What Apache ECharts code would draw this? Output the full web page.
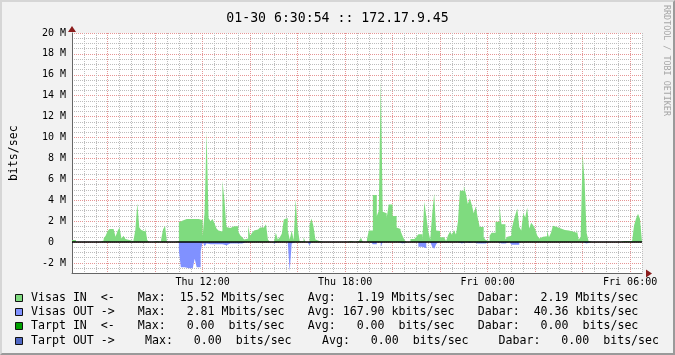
<!DOCTYPE html>
<html><head><meta charset="utf-8">
<script src="https://cdn.jsdelivr.net/npm/echarts@6/dist/echarts.min.js"></script>
<style>
html,body{margin:0;padding:0;background:#f2f2f2;}
#wrap{position:relative;width:675px;height:355px;}
#chart{position:absolute;left:0;top:0;width:675px;height:355px;}
#frame{position:absolute;left:0;top:0;width:675px;height:355px;box-sizing:border-box;border:2px solid;border-color:#d6d6d6 #9a9a9a #9a9a9a #d6d6d6;pointer-events:none;}
</style></head><body>
<div id="wrap"><div id="chart"></div><div id="frame"></div></div>
<script>
// ---- data (Mbits/sec, one value per 5-minute sample, starting Thu 06:30) ----
const startMinute = 390;   // Thu 06:30, minutes since Thu 00:00
const stepMinutes = 5;
const visasIn = [
  0.2,0.2,0,0,0,0,0.1,0,0,0,0,0,
  0,0,0.15,0.15,0.35,0.6,1.05,1.25,1.25,1.4,0.5,1.05,
  1.4,0.35,0.6,0.3,0.2,0.25,0.1,0.1,1.15,3.7,1.4,1.15,
  1.0,1.4,0.2,0,0,0.1,0.1,0,0,0.2,1.2,1.55,
  0,0,0,0,0.1,0.1,1.9,2.05,2.15,2.2,2.2,2.2,
  2.2,2.2,2.2,2.2,2.15,2.1,0.5,2.8,10.5,2.3,2.0,2.2,
  1.8,1.3,1.1,1.0,5.85,4.1,1.45,1.35,1.35,1.5,1.5,1.5,
  1.0,0.65,0.45,0.25,0.35,1.55,0.6,0.9,1.1,1.2,1.2,1.4,
  1.4,1.5,1.7,0.25,0,0,0,0.9,0.25,0.45,0.8,2.15,
  2.3,1.15,0.25,1.1,0.2,4.1,1.4,0.1,0.1,0.45,0,0,
  1.6,2.25,1.5,0.25,0.1,0,0,0,0,0,0,0,
  0,0,0,0,0,0.1,0,0,0.1,0,0,0,
  0.1,0,0.4,0,0,0.25,1.1,1.1,4.5,4.5,2.5,3.0,
  15.52,2.9,2.75,2.3,3.6,3.6,2.5,2.5,1.4,1.25,1.05,0.6,
  0.2,0,0,0.3,0.3,0.3,0.5,0.75,0.75,0.2,3.85,2.5,
  1.05,0.25,2.7,4.65,1.1,1.05,0.45,0.45,0.35,0.1,0.65,1.0,
  0.7,1.15,0.73,1.95,4.9,4.9,5.35,4.65,3.65,4.2,3.55,2.75,
  3.4,2.35,1.45,1.45,0.45,0.2,0.1,0.6,0.9,0.9,1.95,1.95,
  3.5,1.7,1.7,0.25,0.5,0.6,1.1,1.95,2.6,3.2,1.45,1.1,
  2.75,2.35,3.3,1.3,1.85,1.6,1.25,0.65,0.35,0.5,0.55,0.55,
  1.1,0.45,0.9,1.55,1.45,1.45,1.3,1.15,1.15,1.1,1.1,1.0,
  1.0,0.9,0.9,1.25,0.25,0.45,8.42,5.85,0.9,0.1,0,0,
  0,0,0,0,0,0,0,0,0,0,0,0,
  0,0,0.1,0,0.1,0,0.1,0,1.6,2.25,2.7,2.2
];
const visasOut = [
  0,0,0,0,0,0,0,0,0,0,0,0,
  0,0,0,0,0,0,0,0,0,0,0,0,
  0,0,0,0,0,0,0,0,0,0,0,0,
  0,0,0,0,0,0,0,0,0,0,0,0,
  0,0,0,0,0,0,-0.8,-2.42,-2.42,-2.5,-2.5,-2.5,
  -2.5,-2.5,-1.6,-2.4,-2.4,-0.9,0,-0.4,-0.15,-0.2,-0.2,-0.2,
  -0.2,-0.2,-0.2,-0.2,-0.2,-0.3,-0.35,-0.15,-0.15,-0.15,-0.15,-0.15,
  -0.15,-0.15,0,0,0,0,0,0,0,0,0,0,
  0,0,0,0,0,0,-0.2,0,0,0,0,0,
  0,0,-2.81,-0.13,0,0,0,0,0,0,0,0,
  -0.3,0,0,0,0,0,0,0,0,0,0,0,
  0,0,0,0,0,0,0,0,0,0,0,0,
  0,0,0,0,0,0,0,0,-0.2,-0.2,0,0,
  -0.45,0,0,0,0,0,0,0,0,-0.13,-0.13,0,
  0,0,0,0,0,0,0,-0.45,-0.45,-0.6,-0.6,0,
  0,0,-0.45,-0.65,-0.2,0,0,0,0,0,0,0,
  0,0,0,-0.13,-0.13,0,0,0,-0.1,-0.1,0,0,
  -0.13,-0.13,-0.13,0,-0.13,0,0,0,0,0,0,-0.13,
  -0.13,0,-0.13,0,0,0,-0.25,-0.25,-0.25,-0.25,0,0,
  0,0,0,0,0,0,0,0,0,0,0,0,
  0,0,0,0,0,0,0,0,0,0,0,0,
  0,0,0,0,0,0,0,-0.13,0,0,0,0,
  0,0,0,0,0,0,0,0,0,0,0,0,
  0,0,0,0,0,0,0,0,0,0,0,0
];
const xLabelTicks = [720, 1080, 1440, 1800];
const xLabelTexts = ['Thu 12:00', 'Thu 18:00', 'Fri 00:00', 'Fri 06:00'];
const yLabelTicks = [-2, 0, 2, 4, 6, 8, 10, 12, 14, 16, 18, 20];
const yLabelTexts = ['-2 M', '0  ', '2 M', '4 M', '6 M', '8 M', '10 M', '12 M', '14 M', '16 M', '18 M', '20 M'];
const titleText = '01-30 6:30:54 :: 172.17.9.45';
const yAxisName = 'bits/sec';
const watermark = 'RRDTOOL / TOBI OETIKER';
const legendLabels = ['Visas IN  <-', 'Visas OUT ->', 'Tarpt IN  <-', 'Tarpt OUT ->'];
const legendMax   = ['Max:  15.52 Mbits/sec', 'Max:   2.81 Mbits/sec', 'Max:   0.00  bits/sec', 'Max:   0.00  bits/sec'];
const legendAvg   = ['Avg:   1.19 Mbits/sec', 'Avg: 167.90 kbits/sec', 'Avg:   0.00  bits/sec', 'Avg:   0.00  bits/sec'];
const legendDabar = ['Dabar:   2.19 Mbits/sec', 'Dabar:  40.36 kbits/sec', 'Dabar:   0.00  bits/sec', 'Dabar:   0.00  bits/sec'];

// ---- styles ----
const MONO = '"DejaVu Sans Mono", monospace';
const COLORS = ['#7fdb7f', '#8091ff', '#00a000', '#5068c4'];
const GRID_GREY = '#bdbdbd';
const GRID_RED = '#e69595';
const rowY = [298, 312, 326, 341];
const colX = [[31, 137.8, 307.8, 477.8], [31, 137.8, 307.8, 477.8], [31, 137.8, 307.8, 477.8], [31, 145, 322, 498.5]];

// each 5-minute sample holds its value across its own interval (rrdtool-style blocks)
function toSteps(vals) {
  const d = [];
  vals.forEach((v, i) => {
    d.push([startMinute + stepMinutes * i, v]);
    d.push([startMinute + stepMinutes * (i + 1), v]);
  });
  return d;
}

const graphic = [];
for (let r = 0; r < 4; r++) {
  graphic.push({type: 'rect', silent: true, shape: {x: 15.5, y: rowY[r] - 3.5, width: 7, height: 7},
    style: {fill: COLORS[r], stroke: '#111', lineWidth: 1}});
  const segs = [legendLabels[r], legendMax[r], legendAvg[r], legendDabar[r]];
  segs.forEach((s, k) => graphic.push({type: 'text', silent: true, x: colX[r][k], y: rowY[r],
    style: {text: s, font: '11.6px ' + MONO, fill: '#000', align: 'left', verticalAlign: 'middle'}}));
}
graphic.push({type: 'text', silent: true, x: 670.5, y: 5, rotation: -Math.PI / 2,
  style: {text: watermark, font: '8.4px ' + MONO, fill: '#a6a6a6', align: 'left', verticalAlign: 'top'}});

const chart = echarts.init(document.getElementById('chart'), null, {renderer: 'canvas'});
chart.setOption({
  animation: false,
  backgroundColor: '#f2f2f2',
  title: {text: titleText, left: 'center', top: 7,
    textStyle: {fontFamily: MONO, fontSize: 13.2, fontWeight: 'normal', color: '#000'}},
  grid: {left: 66, top: 33, width: 576, height: 240.4, show: true, backgroundColor: '#fff', borderWidth: 0},
  xAxis: {type: 'value', min: 390, max: 1830, interval: 30,
    axisLine: {show: true, onZero: false, lineStyle: {color: '#666', width: 1}},
    axisTick: {show: false},
    axisLabel: {margin: 4, fontFamily: MONO, fontSize: 10, color: '#000', hideOverlap: false,
      formatter: v => { const k = xLabelTicks.indexOf(v); return k >= 0 ? xLabelTexts[k] : ''; }},
    splitLine: {show: true, lineStyle: {color: [GRID_GREY, GRID_GREY, GRID_GREY, GRID_RED], type: [1, 1], width: 1}}
  },
  yAxis: {type: 'value', min: -3, max: 20, interval: 0.5,
    name: yAxisName, nameLocation: 'middle', nameGap: 52,
    nameTextStyle: {fontFamily: MONO, fontSize: 11.6, color: '#000'},
    axisLine: {show: true, lineStyle: {color: '#666', width: 1}},
    axisTick: {show: false},
    axisLabel: {margin: 6, fontFamily: MONO, fontSize: 10, color: '#000', hideOverlap: false,
      formatter: v => { const k = yLabelTicks.indexOf(v); return k >= 0 ? yLabelTexts[k] : ''; }},
    splitLine: {show: true, lineStyle: {color: [GRID_GREY, GRID_GREY, GRID_RED, GRID_GREY], type: [1, 1], width: 1}}
  },
  series: [
    {type: 'line', name: 'Visas IN', data: toSteps(visasIn), symbol: 'none', silent: true, sampling: null,
      lineStyle: {width: 0}, itemStyle: {color: COLORS[0]}, areaStyle: {color: COLORS[0], opacity: 1},
      markPoint: {silent: true, symbol: 'triangle', symbolSize: [8, 6], label: {show: false},
        itemStyle: {color: '#8b1c1c'},
        data: [{coord: [390, 20], symbolOffset: [0, -4]},
               {coord: [1830, -3], symbolRotate: -90, symbolOffset: [7, 0]}]}
    },
    {type: 'line', name: 'Visas OUT', data: toSteps(visasOut), symbol: 'none', silent: true, sampling: null,
      lineStyle: {width: 0}, itemStyle: {color: COLORS[1]}, areaStyle: {color: COLORS[1], opacity: 1},
      markLine: {silent: true, symbol: 'none', label: {show: false},
        lineStyle: {color: '#000', width: 1.5, type: 'solid'}, data: [{yAxis: 0}]}
    }
  ],
  graphic: graphic
});
</script></body></html>
